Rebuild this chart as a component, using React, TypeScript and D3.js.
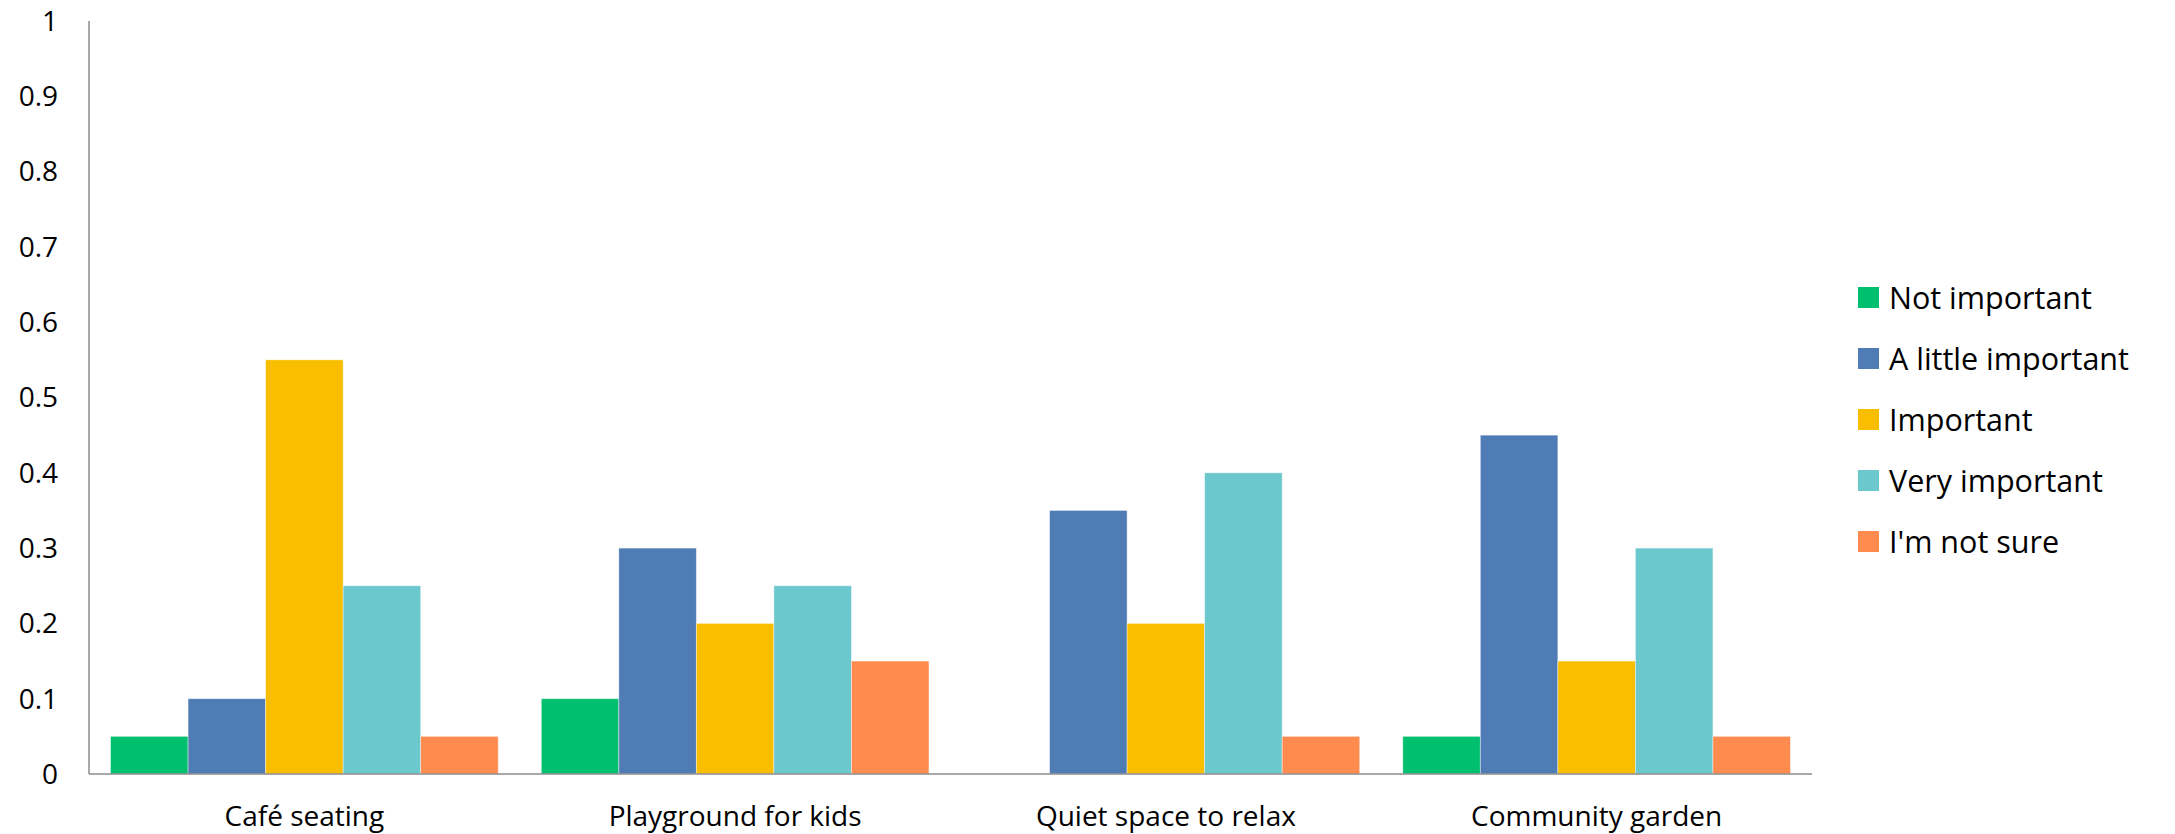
import React, { useEffect, useRef } from "react";
import * as d3 from "d3";

const categories = [
  "Café seating",
  "Playground for kids",
  "Quiet space to relax",
  "Community garden",
];
const seriesNames = [
  "Not important",
  "A little important",
  "Important",
  "Very important",
  "I'm not sure",
];
const seriesColors = ["#00BF6F", "#507CB6", "#F9BE00", "#6BC8CD", "#FF8B4F"];

// one array per series, in category order
const notImportant = [0.05, 0.1, 0, 0.05];
const aLittleImportant = [0.1, 0.3, 0.35, 0.45];
const important = [0.55, 0.2, 0.2, 0.15];
const veryImportant = [0.25, 0.25, 0.4, 0.3];
const notSure = [0.05, 0.15, 0.05, 0.05];

const yTicks = [0, 0.1, 0.2, 0.3, 0.4, 0.5, 0.6, 0.7, 0.8, 0.9, 1];
const yTickLabels = ["0", "0.1", "0.2", "0.3", "0.4", "0.5", "0.6", "0.7", "0.8", "0.9", "1"];

const FONT = "'Open Sans', sans-serif";

export default function App() {
  const svgRef = useRef<SVGSVGElement>(null);

  useEffect(() => {
    const width = 2175;
    const height = 834;
    const left = 89;
    const right = 1812;
    const top = 21;
    const bottom = 774;

    const svg = d3.select(svgRef.current);
    svg.selectAll("*").remove();
    svg.attr("width", width).attr("height", height);

    const allSeries = [notImportant, aLittleImportant, important, veryImportant, notSure];

    const x0 = d3
      .scaleBand<string>()
      .domain(categories)
      .range([left, right])
      .paddingInner(0.1)
      .paddingOuter(0.05);
    const x1 = d3
      .scaleBand<string>()
      .domain(seriesNames)
      .range([0, x0.bandwidth()]);
    const y = d3.scaleLinear().domain([0, 1]).range([bottom, top]);

    // bars
    const groups = svg
      .selectAll("g.cat")
      .data(categories)
      .join("g")
      .attr("class", "cat")
      .attr("transform", (d) => `translate(${x0(d)},0)`);

    groups
      .selectAll("rect")
      .data((c, ci) => seriesNames.map((s, si) => ({ s, si, v: allSeries[si][ci] })))
      .join("rect")
      .attr("x", (d) => x1(d.s)!)
      .attr("width", x1.bandwidth())
      .attr("y", (d) => y(d.v))
      .attr("height", (d) => y(0) - y(d.v))
      .attr("fill", (d) => seriesColors[d.si])
      .attr("stroke", "#ffffff")
      .attr("stroke-opacity", 0.5)
      .attr("stroke-width", 0.8);

    // axes lines
    svg
      .append("line")
      .attr("x1", left)
      .attr("x2", left)
      .attr("y1", top)
      .attr("y2", bottom)
      .attr("stroke", "#8c8c8c")
      .attr("stroke-width", 1.5);
    svg
      .append("line")
      .attr("x1", left)
      .attr("x2", right)
      .attr("y1", bottom)
      .attr("y2", bottom)
      .attr("stroke", "#8c8c8c")
      .attr("stroke-width", 1.5);

    // y tick labels
    svg
      .selectAll("text.ytick")
      .data(yTicks)
      .join("text")
      .attr("class", "ytick")
      .attr("x", 58)
      .attr("y", (d) => y(d))
      .attr("dy", "0.35em")
      .attr("text-anchor", "end")
      .style("font-family", FONT)
      .style("font-size", "28px")
      .style("fill", "#000")
      .text((d, i) => yTickLabels[i]);

    // category labels
    svg
      .selectAll("text.xlab")
      .data(categories)
      .join("text")
      .attr("class", "xlab")
      .attr("x", (d) => x0(d)! + x0.bandwidth() / 2)
      .attr("y", 826)
      .attr("text-anchor", "middle")
      .style("font-family", FONT)
      .style("font-size", "28px")
      .style("fill", "#000")
      .text((d) => d);

    // legend
    const legend = svg
      .selectAll("g.leg")
      .data(seriesNames)
      .join("g")
      .attr("class", "leg")
      .attr("transform", (d, i) => `translate(1858,${287 + i * 61})`);
    legend
      .append("rect")
      .attr("width", 21)
      .attr("height", 21)
      .attr("fill", (d, i) => seriesColors[i]);
    legend
      .append("text")
      .attr("x", 31)
      .attr("y", 22)
      .style("font-family", FONT)
      .style("font-size", "30.5px")
      .style("fill", "#000")
      .text((d) => d);
  }, []);

  return (
    <div style={{ position: "absolute", left: 0, top: 0, background: "#fff" }}>
      <svg ref={svgRef} style={{ display: "block" }} />
    </div>
  );
}
